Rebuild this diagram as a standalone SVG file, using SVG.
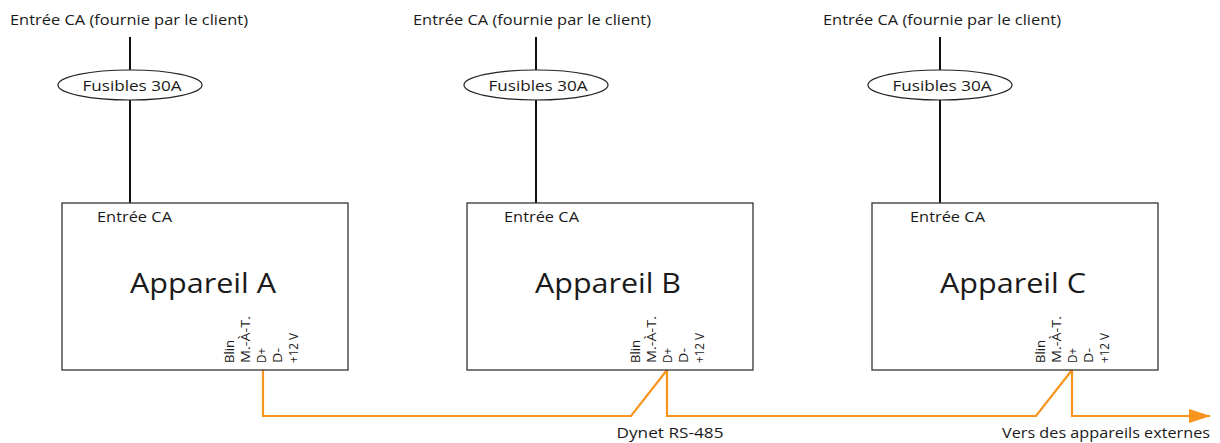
<svg xmlns="http://www.w3.org/2000/svg" width="1220" height="443" viewBox="0 0 1220 443">
<style>
text{font-family:"Open Sans","Liberation Sans",sans-serif;fill:#1a1a1a}
.t{font-size:14px}
.f{font-size:15px}
.big{font-size:27px}
.pin{font-size:12px}
.box{fill:#fff;stroke:#333;stroke-width:1.3}
.ell{fill:#fff;stroke:#222;stroke-width:1.2}
.pw{stroke:#111;stroke-width:2;fill:none}
.bus{stroke:#F7941E;stroke-width:2.2;fill:none}
</style>
<defs>
<marker id="arr" markerWidth="22" markerHeight="14" refX="21" refY="7" markerUnits="userSpaceOnUse" orient="auto">
<path d="M0,0 L22,7 L0,14 Z" fill="#F7941E"/>
</marker>
</defs>
<g id="connectors">
<path class="pw" d="M130,37 V70 M130,100 V203"/>
<path class="pw" d="M536,37 V70 M536,100 V203"/>
<path class="pw" d="M940,37 V70 M940,100 V203"/>
<path class="bus" d="M263,370 V416 H631 L667,370 V416 H1036 L1072,370 V416 H1210" marker-end="url(#arr)"/>
</g>
<g id="labelsTop">
<text class="t" x="129" y="25" text-anchor="middle" textLength="238" lengthAdjust="spacingAndGlyphs">Entrée CA (fournie par le client)</text>
<text class="t" x="532" y="25" text-anchor="middle" textLength="238" lengthAdjust="spacingAndGlyphs">Entrée CA (fournie par le client)</text>
<text class="t" x="942" y="25" text-anchor="middle" textLength="238" lengthAdjust="spacingAndGlyphs">Entrée CA (fournie par le client)</text>
</g>
<g id="fuseA"><ellipse class="ell" cx="130" cy="85" rx="72" ry="15"/><text class="f" x="132" y="90.5" text-anchor="middle" textLength="99" lengthAdjust="spacingAndGlyphs">Fusibles 30A</text></g>
<g id="fuseB"><ellipse class="ell" cx="536" cy="85" rx="72" ry="15"/><text class="f" x="538" y="90.5" text-anchor="middle" textLength="99" lengthAdjust="spacingAndGlyphs">Fusibles 30A</text></g>
<g id="fuseC"><ellipse class="ell" cx="940" cy="85" rx="72" ry="15"/><text class="f" x="942" y="90.5" text-anchor="middle" textLength="99" lengthAdjust="spacingAndGlyphs">Fusibles 30A</text></g>
<g id="deviceA">
<rect class="box" x="62" y="203" width="286" height="167"/>
<text class="t" x="97" y="222" textLength="75" lengthAdjust="spacingAndGlyphs">Entrée CA</text>
<text class="big" x="203" y="293" text-anchor="middle" textLength="146" lengthAdjust="spacingAndGlyphs">Appareil A</text>
<g class="pin">
<text transform="translate(234,363) rotate(-90)" textLength="23" lengthAdjust="spacingAndGlyphs">Blin</text>
<text transform="translate(250,363) rotate(-90)" textLength="47" lengthAdjust="spacingAndGlyphs">M.-À-T.</text>
<text transform="translate(266,363) rotate(-90)" textLength="15" lengthAdjust="spacingAndGlyphs">D+</text>
<text transform="translate(282,363) rotate(-90)" textLength="15" lengthAdjust="spacingAndGlyphs">D-</text>
<text transform="translate(298,363) rotate(-90)" textLength="30" lengthAdjust="spacingAndGlyphs">+12 V</text>
</g>
</g>
<g id="deviceB">
<rect class="box" x="467" y="203" width="286" height="167"/>
<text class="t" x="504" y="222" textLength="75" lengthAdjust="spacingAndGlyphs">Entrée CA</text>
<text class="big" x="608" y="293" text-anchor="middle" textLength="146" lengthAdjust="spacingAndGlyphs">Appareil B</text>
<g class="pin">
<text transform="translate(640,363) rotate(-90)" textLength="23" lengthAdjust="spacingAndGlyphs">Blin</text>
<text transform="translate(656,363) rotate(-90)" textLength="47" lengthAdjust="spacingAndGlyphs">M.-À-T.</text>
<text transform="translate(672,363) rotate(-90)" textLength="15" lengthAdjust="spacingAndGlyphs">D+</text>
<text transform="translate(688,363) rotate(-90)" textLength="15" lengthAdjust="spacingAndGlyphs">D-</text>
<text transform="translate(704,363) rotate(-90)" textLength="30" lengthAdjust="spacingAndGlyphs">+12 V</text>
</g>
</g>
<g id="deviceC">
<rect class="box" x="872" y="203" width="286" height="167"/>
<text class="t" x="910" y="222" textLength="75" lengthAdjust="spacingAndGlyphs">Entrée CA</text>
<text class="big" x="1013" y="293" text-anchor="middle" textLength="146" lengthAdjust="spacingAndGlyphs">Appareil C</text>
<g class="pin">
<text transform="translate(1045,363) rotate(-90)" textLength="23" lengthAdjust="spacingAndGlyphs">Blin</text>
<text transform="translate(1061,363) rotate(-90)" textLength="47" lengthAdjust="spacingAndGlyphs">M.-À-T.</text>
<text transform="translate(1077,363) rotate(-90)" textLength="15" lengthAdjust="spacingAndGlyphs">D+</text>
<text transform="translate(1093,363) rotate(-90)" textLength="15" lengthAdjust="spacingAndGlyphs">D-</text>
<text transform="translate(1109,363) rotate(-90)" textLength="30" lengthAdjust="spacingAndGlyphs">+12 V</text>
</g>
</g>
<g id="busLabels">
<text class="t" x="670" y="438" text-anchor="middle" textLength="107" lengthAdjust="spacingAndGlyphs">Dynet RS-485</text>
<text class="t" x="1210" y="438" text-anchor="end" textLength="208" lengthAdjust="spacingAndGlyphs">Vers des appareils externes</text>
</g>
</svg>
